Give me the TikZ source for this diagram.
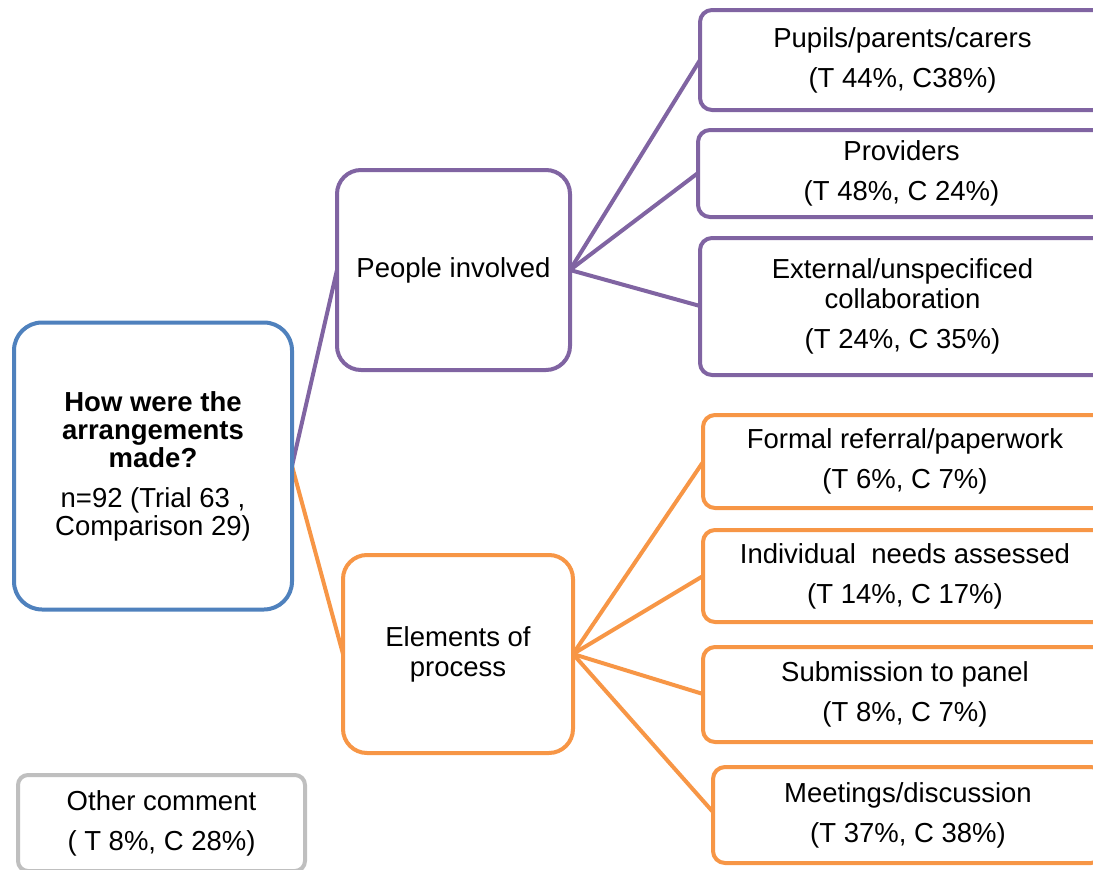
\documentclass[tikz,border=0pt]{standalone}
\usepackage{fontspec}
\setmainfont{Liberation Sans}
\definecolor{cblue}{RGB}{79,129,189}
\definecolor{cpurple}{RGB}{128,100,162}
\definecolor{corange}{RGB}{247,150,70}
\definecolor{cgray}{RGB}{191,191,191}
\tikzset{
  box/.style={draw, line width=4pt, rectangle, fill=white, align=center, inner sep=0pt,
    font=\fontsize{27.5}{30}\selectfont, text=black},
  bigbox/.style={box, rounded corners=28pt},
  midbox/.style={box, rounded corners=24pt},
  leafbox/.style={box, rounded corners=12pt},
  link/.style={line width=4pt},
}
\newcommand{\hb}[1]{\textbf{#1}}
\begin{document}
\begin{tikzpicture}[x=1pt,y=-1pt]
\useasboundingbox (0,0) rectangle (1093,870);
\begin{scope}
\clip (0,0) rectangle (1093,870);
% connectors first
\coordinate (mE) at (292,466);
\coordinate (pE) at (570,270);
\coordinate (eE) at (573,654);
\draw[link, cpurple] (mE) -- (337,270) coordinate (pW);
\draw[link, corange] (mE) -- (343,654) coordinate (eW);
\draw[link, cpurple] (pE) -- (700,60);
\draw[link, cpurple] (pE) -- (698,173);
\draw[link, cpurple] (pE) -- (700,306);
\draw[link, corange] (eE) -- (703,462);
\draw[link, corange] (eE) -- (703,576);
\draw[link, corange] (eE) -- (703,694);
\draw[link, corange] (eE) -- (713,812);

\node[bigbox, draw=cblue, minimum width=278pt, minimum height=287pt] (main) at (153,466)
  {\hb{How were the}\\[-2pt]\hb{arrangements}\\[-2pt]\hb{made?}\\[10pt]n=92 (Trial 63 ,\\[-2pt]Comparison 29)};
\node[midbox, draw=cpurple, minimum width=233pt, minimum height=200pt] (people) at (453.5,270)
  {People involved};
\node[midbox, draw=corange, minimum width=230pt, minimum height=198pt] (elem) at (458,654)
  {Elements of\\process};

\node[leafbox, draw=cpurple, minimum width=405pt, minimum height=100pt] (pupils) at (902.5,60)
  {Pupils/parents/carers\\[10pt](T 44\%, C38\%)};
\node[leafbox, draw=cpurple, minimum width=407pt, minimum height=87pt] (prov) at (901.5,173.5)
  {Providers\\[10pt](T 48\%, C 24\%)};
\node[leafbox, draw=cpurple, minimum width=405pt, minimum height=137pt] (ext) at (902.5,306.5)
  {External/unspecificed\\collaboration\\[10pt](T 24\%, C 35\%)};

\node[leafbox, draw=corange, minimum width=404pt, minimum height=93pt] (formal) at (905,461.5)
  {Formal referral/paperwork\\[10pt](T 6\%, C 7\%)};
\node[leafbox, draw=corange, minimum width=404pt, minimum height=92pt] (indiv) at (905,576)
  {Individual\ \ needs assessed\\[10pt](T 14\%, C 17\%)};
\node[leafbox, draw=corange, minimum width=404pt, minimum height=95pt] (subm) at (905,694.5)
  {Submission to panel\\[10pt](T 8\%, C 7\%)};
\node[leafbox, draw=corange, minimum width=390pt, minimum height=96pt] (meet) at (908,815)
  {Meetings/discussion\\[10pt](T 37\%, C 38\%)};

\node[leafbox, draw=cgray, rounded corners=10pt, minimum width=287pt, minimum height=96pt] (other) at (161.5,823)
  {Other comment\\[10pt]( T 8\%, C 28\%)};
\end{scope}
\end{tikzpicture}
\end{document}
